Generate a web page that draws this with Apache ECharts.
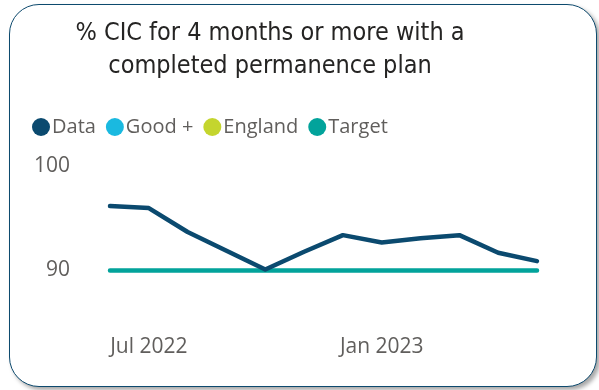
<!DOCTYPE html>
<html>
<head>
<meta charset="utf-8">
<script src="https://cdn.jsdelivr.net/npm/echarts@6/dist/echarts.min.js"></script>
<style>
  html, body { margin: 0; padding: 0; background: #fff; }
  #wrap { position: relative; width: 599px; height: 390px; overflow: hidden; }
  #card {
    position: absolute; left: 9px; top: 4px; width: 586px; height: 381px;
    border: 1.5px solid #0d4a6e; border-radius: 30px; background: #fff;
    box-shadow: 3px 3px 4px rgba(0,0,0,0.35);
  }
  #chart { position: absolute; left: 0; top: 0; width: 599px; height: 390px; }
</style>
</head>
<body>
<div id="wrap">
  <div id="card"></div>
  <div id="chart"></div>
</div>
<script>
// months on the x axis
const months = ['Jun 2022', 'Jul 2022', 'Aug 2022', 'Sep 2022', 'Oct 2022', 'Nov 2022',
                'Dec 2022', 'Jan 2023', 'Feb 2023', 'Mar 2023', 'Apr 2023', 'May 2023'];
// % CIC 4+ months with completed permanence plan
const dataValues = [96.2, 96.0, 93.7, 91.9, 90.1, 91.8, 93.4, 92.7, 93.1, 93.4, 91.7, 90.9];
const targetValues = [90, 90, 90, 90, 90, 90, 90, 90, 90, 90, 90, 90];
const goodValues = [];
const englandValues = [];
const shownLabels = ['Jul 2022', 'Jan 2023'];

const chart = echarts.init(document.getElementById('chart'));

const lineBase = {
    type: 'line',
    symbol: 'none',
    showSymbol: false,
    lineStyle: {width: 4, cap: 'round', join: 'round'},
    emphasis: {disabled: true}
};

chart.setOption({
    animation: false,
    title: {
        text: '% CIC for 4 months or more with a\ncompleted permanence plan',
        left: 265,
        top: 12,
        textAlign: 'center',
        textStyle: {
            fontFamily: 'DejaVu Sans Condensed',
            fontSize: 25,
            fontWeight: 'normal',
            color: '#252423',
            lineHeight: 33
        }
    },
    legend: {
        left: 27,
        top: 112,
        icon: 'circle',
        itemWidth: 18,
        itemHeight: 18,
        itemGap: 10,
        textStyle: {fontFamily: 'Open Sans', fontSize: 20, color: '#605e5c', padding: [0, 0, 0, -3]},
        data: ['Data', 'Good +', 'England', 'Target']
    },
    grid: {left: 110, right: 62, top: 166.5, height: 156, containLabel: false},
    xAxis: {
        type: 'category',
        data: months,
        boundaryGap: false,
        axisLine: {show: false},
        axisTick: {show: false},
        axisLabel: {
            margin: 14,
            fontFamily: 'Open Sans',
            fontSize: 21,
            color: '#605e5c',
            interval: (i, v) => shownLabels.includes(v)
        }
    },
    yAxis: {
        type: 'value',
        min: 85,
        max: 100,
        interval: 5,
        splitLine: {show: false},
        axisLine: {show: false},
        axisTick: {show: false},
        axisLabel: {
            margin: 40,
            fontFamily: 'Open Sans',
            fontSize: 21,
            color: '#605e5c',
            formatter: v => (v % 10 === 0 ? String(v) : '')
        }
    },
    series: [
        Object.assign({}, lineBase, {name: 'Data', data: dataValues, z: 3,
            itemStyle: {color: '#0b4a6f'}, lineStyle: {width: 4.5, color: '#0b4a6f', cap: 'round', join: 'round'}}),
        Object.assign({}, lineBase, {name: 'Good +', data: goodValues, itemStyle: {color: '#1ab9e0'}}),
        Object.assign({}, lineBase, {name: 'England', data: englandValues, itemStyle: {color: '#c4d52e'}}),
        Object.assign({}, lineBase, {name: 'Target', data: targetValues, z: 2,
            itemStyle: {color: '#02a39b'}, lineStyle: {width: 4.5, color: '#02a39b', cap: 'round'}})
    ]
});
</script>
</body>
</html>
